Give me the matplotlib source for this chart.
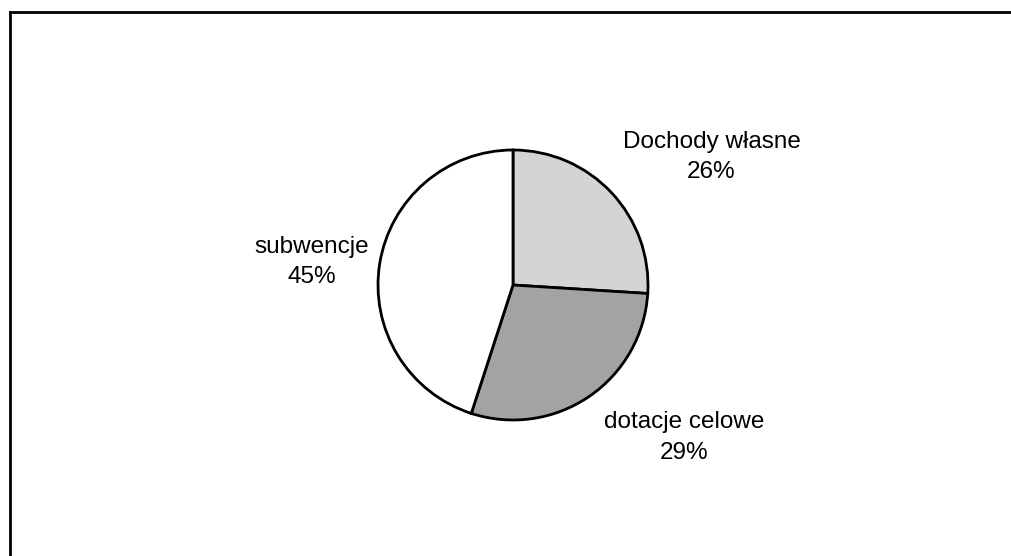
import matplotlib.pyplot as plt
from matplotlib.lines import Line2D

# Data
labels = ['Dochody własne', 'dotacje celowe', 'subwencje']
shares = [26, 29, 45]
colors = ['#d4d4d4', '#a3a3a3', '#ffffff']
# label anchor positions in pie-radius units
label_pos = [(1.47, 0.95), (1.27, -1.13), (-1.49, 0.17)]

plt.rcParams['font.family'] = ['Liberation Sans', 'DejaVu Sans']

fig = plt.figure(figsize=(10.11, 5.56), dpi=100)
ax = fig.add_axes([(513 - 135) / 1011, 1 - (285 + 135) / 556, 270 / 1011, 270 / 556])

wedges, _ = ax.pie(shares, colors=colors, startangle=90, counterclock=False,
                   wedgeprops=dict(edgecolor='black', linewidth=2))
ax.set_xlim(-1, 1)
ax.set_ylim(-1, 1)
ax.set_aspect('equal')

for name, val, (x, y) in zip(labels, shares, label_pos):
    ax.text(x, y, f'{name}\n{val}%', ha='center', va='center',
            fontsize=17.5, linespacing=1.5, clip_on=False)

# frame of the scanned chart area (only top and left visible)
fig.add_artist(Line2D([9.5 / 1011, 9.5 / 1011], [0, 1 - 12 / 556],
                      transform=fig.transFigure, color='black', linewidth=2))
fig.add_artist(Line2D([9.5 / 1011, 1], [1 - 12 / 556, 1 - 12 / 556],
                      transform=fig.transFigure, color='black', linewidth=2))

fig.savefig('out.png', dpi=100)
